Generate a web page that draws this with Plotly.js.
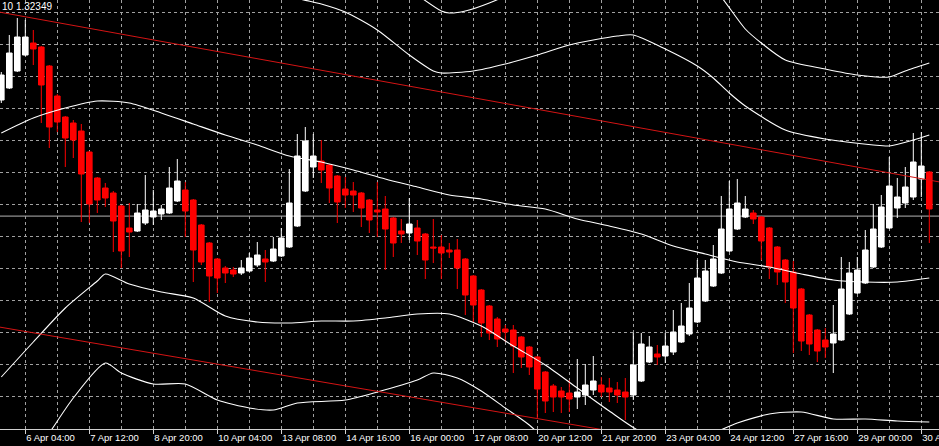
<!DOCTYPE html>
<html>
<head>
<meta charset="utf-8">
<script src="https://cdn.plot.ly/plotly-3.0.1.min.js"></script>
<style>
  html, body { margin: 0; padding: 0; background: #000; }
  #chart { width: 939px; height: 446px; }
</style>
</head>
<body>
<div id="chart"></div>
<script>
// H4 bars, numbered left to right (0 = first, partly cut bar)
var opens = [1.3351,1.3363,1.3380,1.3396,1.3408,1.3404,1.3385,1.3355,1.3334,1.3328,
             1.3320,1.3299,1.3273,1.3263,1.3258,1.3245,1.3223,1.3220,1.3228,1.3234,
             1.3237,1.3238,1.3250,1.3261,1.3251,1.3226,1.3208,1.3192,1.3183,1.3181,
             1.3178,1.3180,1.3186,1.3192,1.3190,1.3195,1.3204,1.3225,1.3260,1.3284,
             1.3290,1.3286,1.3275,1.3262,1.3260,1.3258,1.3251,1.3241,1.3242,1.3233,
             1.3220,1.3218,1.3223,1.3217,1.3204,1.3204,1.3201,1.3201,1.3192,1.3175,
             1.3161,1.3145,1.3132,1.3122,1.3121,1.3114,1.3104,1.3094,1.3079,1.3065,
             1.3060,1.3058,1.3054,1.3056,1.3061,1.3066,1.3063,1.3061,1.3059,1.3056,
             1.3070,1.3089,1.3097,1.3095,1.3099,1.3109,1.3117,1.3129,1.3150,1.3165,
             1.3178,1.3200,1.3222,1.3234,1.3238,1.3234,1.3223,1.3204,1.3191,1.3179,
             1.3162,1.3136,1.3121,1.3111,1.3108,1.3111,1.3137,1.3158,1.3168,1.3184,
             1.3204,1.3223,1.3243,1.3248,1.3254,1.3272,1.3279];
var highs = [1.3379,1.3416,1.3433,1.3431,1.3421,1.3405,1.3386,1.3357,1.3335,1.3331,
             1.3327,1.3300,1.3274,1.3268,1.3260,1.3246,1.3248,1.3247,1.3276,1.3261,
             1.3246,1.3284,1.3292,1.3269,1.3252,1.3227,1.3209,1.3193,1.3185,1.3184,
             1.3191,1.3198,1.3209,1.3201,1.3214,1.3223,1.3282,1.3317,1.3324,1.3317,
             1.3311,1.3287,1.3276,1.3274,1.3269,1.3259,1.3252,1.3269,1.3255,1.3234,
             1.3232,1.3253,1.3231,1.3218,1.3232,1.3216,1.3208,1.3212,1.3193,1.3176,
             1.3162,1.3146,1.3134,1.3126,1.3126,1.3115,1.3105,1.3095,1.3080,1.3067,
             1.3064,1.3071,1.3092,1.3087,1.3095,1.3074,1.3073,1.3069,1.3073,1.3118,
             1.3118,1.3115,1.3106,1.3118,1.3141,1.3148,1.3168,1.3191,1.3191,1.3206,
             1.3255,1.3270,1.3272,1.3255,1.3241,1.3235,1.3224,1.3205,1.3192,1.3190,
             1.3163,1.3137,1.3122,1.3123,1.3146,1.3194,1.3189,1.3194,1.3221,1.3247,
             1.3256,1.3294,1.3273,1.3284,1.3318,1.3319,1.3280];
var lows  = [1.3348,1.3362,1.3379,1.3395,1.3386,1.3328,1.3303,1.3319,1.3284,1.3293,
             1.3229,1.3228,1.3238,1.3244,1.3199,1.3183,1.3194,1.3219,1.3226,1.3226,
             1.3231,1.3237,1.3249,1.3214,1.3169,1.3186,1.3149,1.3158,1.3168,1.3174,
             1.3176,1.3179,1.3184,1.3169,1.3189,1.3194,1.3203,1.3224,1.3259,1.3273,
             1.3268,1.3248,1.3228,1.3243,1.3239,1.3224,1.3218,1.3214,1.3181,1.3194,
             1.3208,1.3211,1.3196,1.3172,1.3188,1.3172,1.3193,1.3162,1.3136,1.3129,
             1.3114,1.3111,1.3104,1.3109,1.3078,1.3083,1.3076,1.3033,1.3038,1.3039,
             1.3038,1.3039,1.3042,1.3046,1.3056,1.3054,1.3049,1.3048,1.3031,1.3051,
             1.3069,1.3088,1.3086,1.3088,1.3096,1.3108,1.3115,1.3128,1.3149,1.3164,
             1.3177,1.3199,1.3221,1.3233,1.3227,1.3191,1.3172,1.3166,1.3148,1.3098,
             1.3100,1.3096,1.3089,1.3093,1.3078,1.3110,1.3136,1.3157,1.3167,1.3183,
             1.3203,1.3222,1.3233,1.3243,1.3251,1.3254,1.3208];
var closes = [1.3376,1.3398,1.3414,1.3414,1.3402,1.3366,1.3324,1.3329,1.3313,1.3311,
             1.3277,1.3247,1.3251,1.3253,1.3230,1.3200,1.3219,1.3238,1.3241,1.3240,
             1.3242,1.3263,1.3270,1.3240,1.3201,1.3189,1.3175,1.3173,1.3178,1.3177,
             1.3183,1.3193,1.3196,1.3189,1.3202,1.3213,1.3248,1.3295,1.3310,1.3295,
             1.3281,1.3263,1.3249,1.3256,1.3256,1.3243,1.3231,1.3239,1.3222,1.3208,
             1.3217,1.3227,1.3210,1.3191,1.3203,1.3198,1.3199,1.3183,1.3156,1.3146,
             1.3128,1.3118,1.3112,1.3119,1.3105,1.3094,1.3084,1.3062,1.3050,1.3054,
             1.3054,1.3052,1.3059,1.3066,1.3070,1.3059,1.3059,1.3056,1.3054,1.3086,
             1.3107,1.3104,1.3094,1.3105,1.3119,1.3125,1.3143,1.3173,1.3180,1.3192,
             1.3222,1.3242,1.3248,1.3242,1.3232,1.3210,1.3184,1.3179,1.3169,1.3143,
             1.3110,1.3107,1.3100,1.3104,1.3117,1.3162,1.3178,1.3181,1.3201,1.3222,
             1.3244,1.3265,1.3254,1.3264,1.3289,1.3285,1.3242];

// time axis labels (bar number -> label)
var tickBars = [3, 11, 19, 27, 35, 43, 51, 59, 67, 75, 83, 91, 99, 107, 115];
var tickLabels = ['6 Apr 04:00', '7 Apr 12:00', '8 Apr 20:00', '10 Apr 04:00', '13 Apr 08:00',
                  '14 Apr 16:00', '16 Apr 00:00', '17 Apr 08:00', '20 Apr 12:00', '21 Apr 20:00',
                  '23 Apr 04:00', '24 Apr 12:00', '27 Apr 16:00', '29 Apr 00:00', '30 Apr 08:00'];

// bands, read at a few bars each
var midBars = [0,4,8,12,16,20,24,28,32,36,40,44,48,52,56,60,64,68,72,76,80,84,88,92,96,100,104,108,112,116];
var midLine = [1.3318,1.3333,1.3343,1.3350,1.3348,1.3338,1.3327,1.3316,1.3306,1.3295,
               1.3289,1.3281,1.3272,1.3264,1.3256,1.3252,1.3246,1.3242,1.3232,1.3225,
               1.3217,1.3205,1.3197,1.3189,1.3184,1.3177,1.3171,1.3169,1.3169,1.3173];

var up1Bars = [0,4,8,13,16,20,24,28,32,36,40,43,47,51,54,55,59,63,67,71,74,77,79,83,87,89,91,93,98,103,109,111,114,116];
var up1Line = [1.3562,1.3555,1.3543,1.3525,1.3529,1.3517,1.3501,1.3497,1.3473,1.3455,
               1.3447,1.3439,1.3421,1.3396,1.3380,1.3378,1.3380,1.3387,1.3396,1.3406,
               1.3411,1.3415,1.3416,1.3402,1.3385,1.3373,1.3358,1.3345,1.3321,1.3312,
               1.3306,1.3305,1.3311,1.3316];

var lo1Bars = [0,4,8,12,13,16,20,24,28,32,36,40,44,48,52,56,60,64,68,72,76,80,84,88,92,96,100,104,108,112,116];
var lo1Line = [1.3074,1.3109,1.3143,1.3170,1.3177,1.3167,1.3159,1.3153,1.3135,1.3129,
               1.3128,1.3130,1.3130,1.3133,1.3137,1.3137,1.3125,1.3105,1.3086,1.3063,
               1.3040,1.3019,1.3011,1.3015,1.3028,1.3037,1.3039,1.3032,1.3032,1.3030,1.3029];

var up2Bars = [44,48,52,55,56,58,61,64,68,76,84,88,90,93,95,98,103,107,111,113,116];
var up2Line = [1.3517,1.3479,1.3456,1.3440,1.3438,1.3440,1.3448,1.3459,1.3479,1.3504,
               1.3498,1.3472,1.3454,1.3422,1.3408,1.3391,1.3382,1.3376,1.3374,1.3380,1.3388];

var lo2Bars = [0,4,6,9,13,15,19,23,27,31,34,37,43,47,52,54,57,60,63,66,70,74];
var lo2Line = [1.2951,1.2996,1.3018,1.3053,1.3088,1.3078,1.3067,1.3067,1.3051,1.3043,
               1.3041,1.3048,1.3051,1.3059,1.3071,1.3078,1.3073,1.3060,1.3043,1.3026,
               1.2996,1.2970];

// channel trend lines (end points)
var trendBars = [-1, 118];
var trendUpper = [1.3440, 1.3268];
var trendLower = [1.3125, 1.2963];

var bidPrice = 1.32349;
var headerText = '10 ' + bidPrice.toFixed(5);

var bars = opens.map(function (v, i) { return i; });

var gridColor = '#a0a0a0';
var font = 'Liberation Sans, Arial, sans-serif';

function bandTrace(xs, ys, color) {
  return {
    type: 'scatter', mode: 'lines', x: xs, y: ys,
    line: { color: color, width: 1.1, shape: 'spline', smoothing: 0.7 },
    hoverinfo: 'skip', showlegend: false
  };
}

var traces = [
  {
    type: 'candlestick',
    x: bars, open: opens, high: highs, low: lows, close: closes,
    increasing: { line: { color: '#ffffff', width: 1 }, fillcolor: '#ffffff' },
    decreasing: { line: { color: '#ff0000', width: 1 }, fillcolor: '#ff0000' },
    whiskerwidth: 0,
    hoverinfo: 'skip', showlegend: false
  },
  bandTrace(midBars, midLine, '#ffffff'),
  bandTrace(up1Bars, up1Line, '#ffffff'),
  bandTrace(lo1Bars, lo1Line, '#ffffff'),
  bandTrace(up2Bars, up2Line, '#ffffff'),
  bandTrace(lo2Bars, lo2Line, '#ffffff'),
  {
    type: 'scatter', mode: 'lines', x: trendBars, y: trendUpper,
    line: { color: '#d41414', width: 1 }, hoverinfo: 'skip', showlegend: false
  },
  {
    type: 'scatter', mode: 'lines', x: trendBars, y: trendLower,
    line: { color: '#d41414', width: 1 }, hoverinfo: 'skip', showlegend: false
  }
];

var layout = {
  width: 939, height: 446,
  margin: { l: 0, r: 0, t: 0, b: 17, pad: 0 },
  paper_bgcolor: '#000000',
  plot_bgcolor: '#000000',
  showlegend: false,
  boxgap: 0.3, boxgroupgap: 0,
  xaxis: {
    range: [-0.1625, 117.2125],
    tickmode: 'array', tickvals: tickBars, ticktext: tickLabels,
    ticks: 'outside', ticklen: 4, tickcolor: '#d0d0d0', tickwidth: 1,
    ticklabelposition: 'outside right',
    ticklabeloverflow: 'allow',
    tickfont: { family: font, size: 9.5, color: '#ffffff' },
    showline: true, linecolor: '#d0d0d0', linewidth: 1,
    showgrid: true, gridcolor: gridColor, griddash: '3px,3px', gridwidth: 1,
    minor: { tickmode: 'linear', tick0: 7, dtick: 8, showgrid: true,
             gridcolor: gridColor, griddash: '3px,3px', gridwidth: 1 },
    zeroline: false,
    rangeslider: { visible: false },
    fixedrange: true
  },
  yaxis: {
    range: [1.3022, 1.3451],
    tickmode: 'linear', tick0: 1.3439, dtick: 0.0032,
    showticklabels: false, ticks: '',
    showgrid: true, gridcolor: gridColor, griddash: '3px,3px', gridwidth: 1,
    zeroline: false, showline: false,
    fixedrange: true
  },
  shapes: [{
    type: 'line', xref: 'paper', yref: 'y', x0: 0, x1: 1, y0: bidPrice, y1: bidPrice,
    line: { color: '#b4b4b4', width: 1 }, layer: 'below'
  }],
  annotations: [{
    xref: 'paper', yref: 'paper', x: 0, y: 1, xanchor: 'left', yanchor: 'top',
    text: headerText, showarrow: false, borderpad: 0, xshift: 1,
    font: { family: font, size: 10, color: '#ffffff' }
  }]
};

Plotly.newPlot('chart', traces, layout, { staticPlot: true, displayModeBar: false });
</script>
</body>
</html>
